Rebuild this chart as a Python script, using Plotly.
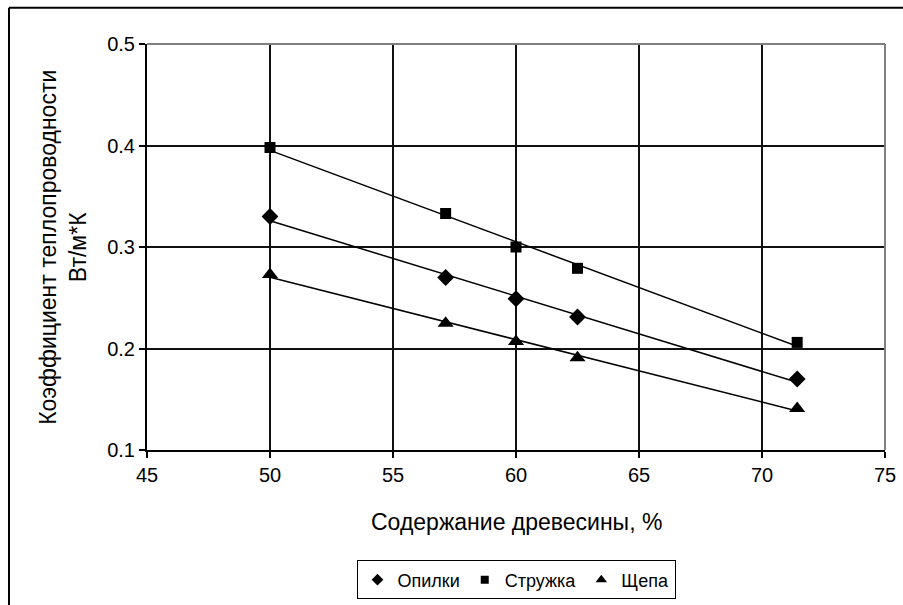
import numpy as np
import plotly.graph_objects as go

# Wood content, %
wood_content = [50.0, 57.14, 60.0, 62.5, 71.43]

# Thermal conductivity, W/(m*K)
sawdust = [0.330, 0.270, 0.249, 0.231, 0.170]    # Опилки
shavings = [0.398, 0.333, 0.300, 0.279, 0.206]   # Стружка
chips = [0.273, 0.225, 0.207, 0.191, 0.141]      # Щепа

series = [
    ("Опилки", sawdust, "diamond", 13, 9),
    ("Стружка", shavings, "square", 11, 8),
    ("Щепа", chips, "triangle-up", 14, 10),
]

X_TITLE = "Содержание древесины, %"
Y_TITLE = "Коэффициент теплопроводности<br>Вт/м*К"

FONT = "Liberation Sans, Arial, sans-serif"

fig = go.Figure()

# linear trend lines over the measured range
x_arr = np.array(wood_content)
x_line = np.array([x_arr.min(), x_arr.max()])
for name, vals, sym, size, lsize in series:
    k, b = np.polyfit(x_arr, np.array(vals), 1)
    fig.add_trace(go.Scatter(
        x=x_line, y=k * x_line + b, mode="lines",
        line=dict(color="black", width=1.5),
        showlegend=False, hoverinfo="skip",
    ))

# measured points
for name, vals, sym, size, lsize in series:
    fig.add_trace(go.Scatter(
        x=wood_content, y=vals, mode="markers", name=name,
        marker=dict(symbol=sym, size=size, color="black", line=dict(width=0)),
        showlegend=False,
    ))

# legend entries with small symbols
for name, vals, sym, size, lsize in series:
    fig.add_trace(go.Scatter(
        x=[None], y=[None], mode="markers", name=name,
        marker=dict(symbol=sym, size=lsize, color="black", line=dict(width=0)),
    ))

fig.update_layout(
    width=903, height=605,
    margin=dict(l=147, r=18, t=44, b=155, autoexpand=False),
    paper_bgcolor="white", plot_bgcolor="white",
    font=dict(family=FONT, size=20, color="black"),
    legend=dict(
        orientation="h", x=0.5, xanchor="center", y=-0.272, yanchor="top",
        bordercolor="black", borderwidth=1,
        font=dict(size=18, family=FONT),
        itemwidth=30, tracegroupgap=0,
    ),
    xaxis=dict(
        range=[45, 75], dtick=5, tick0=45,
        showgrid=True, gridcolor="#111", gridwidth=2,
        showline=True, linecolor="black", linewidth=2,
        ticks="outside", ticklen=6, tickwidth=2, tickcolor="black",
        tickfont=dict(size=20), automargin=False,
        zeroline=False,
    ),
    yaxis=dict(
        range=[0.1, 0.5], dtick=0.1, tick0=0.1, tickformat=".1f",
        showgrid=True, gridcolor="#111", gridwidth=2,
        showline=True, linecolor="black", linewidth=2,
        ticks="outside", ticklen=6, tickwidth=2, tickcolor="black",
        tickfont=dict(size=20), automargin=False,
        zeroline=False,
    ),
    annotations=[
        dict(text=X_TITLE, xref="paper", yref="paper", x=0.5, y=-0.177,
             xanchor="center", yanchor="middle", showarrow=False,
             font=dict(size=23)),
        dict(text=Y_TITLE, xref="paper", yref="paper", x=-0.114, y=0.5,
             xanchor="center", yanchor="middle", showarrow=False,
             textangle=-90, align="center", font=dict(size=23)),
    ],
    shapes=[
        # gray top and right edges of the plot area
        dict(type="line", xref="paper", yref="paper", x0=0, x1=1, y0=1, y1=1,
             line=dict(color="#808080", width=2), layer="above"),
        dict(type="line", xref="paper", yref="paper", x0=1, x1=1, y0=0, y1=1,
             line=dict(color="#808080", width=2), layer="above"),
        # outer chart frame (top and left)
        dict(type="line", xref="paper", yref="paper", x0=-0.187, x1=1.1, y0=1.089, y1=1.089,
             line=dict(color="black", width=2)),
        dict(type="line", xref="paper", yref="paper", x0=-0.187, x1=-0.187, y0=1.089, y1=-0.6,
             line=dict(color="black", width=2)),
    ],
)

fig.write_html("out.html")
